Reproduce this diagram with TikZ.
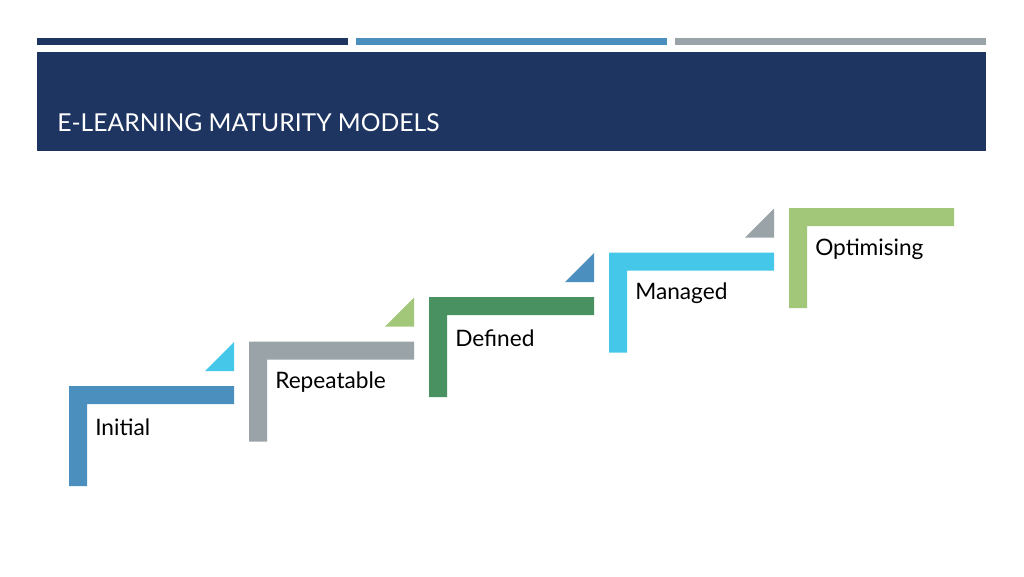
\documentclass[tikz,border=0pt]{standalone}
\usepackage{fontspec}
\setmainfont{Lato}
\usetikzlibrary{positioning}
\definecolor{navy}{HTML}{1F3561}
\definecolor{stepblue}{HTML}{4A8FBD}
\definecolor{stepcyan}{HTML}{45C7E9}
\definecolor{stepgray}{HTML}{9AA3A8}
\definecolor{stepgreen}{HTML}{4A9162}
\definecolor{steplime}{HTML}{A2C778}
\begin{document}
\begin{tikzpicture}[x=0.75pt,y=-0.75pt,
            bar/.style = {fill=#1},
            steplabel/.style = {anchor=west,inner sep=0pt,font=\fontsize{17}{20}\selectfont}]
            \useasboundingbox (0,0) rectangle (1024,576);
            % top stripes and header
            \fill[navy] (37,38) rectangle (348,45);
            \fill[stepblue] (356,38) rectangle (667,45);
            \fill[stepgray] (675,38) rectangle (986,45);
            \fill[navy] (37,52) rectangle (986,151);
            \node[anchor=west,text=white,inner sep=0pt,font=\fontsize{18.5}{22}\selectfont] (title) at (57,123) {E-LEARNING MATURITY MODELS};
            % stairs
            \foreach \i/\c/\t/\lbl in {0/stepblue/stepcyan/Initial,1/stepgray/steplime/Repeatable,
                    2/stepgreen/stepblue/Defined,3/stepcyan/stepgray/Managed,4/steplime/none/Optimising}{
                \pgfmathsetmacro{\x}{69+180*\i}
                \pgfmathsetmacro{\y}{386-44.5*\i}
                \fill[\c] (\x,\y) -- ++(165,0) -- ++(0,18) -- ++(-147,0) -- ++(0,82) -- ++(-18,0) -- cycle;
                \ifnum\i<4
                    \fill[\t] (\x+136,\y-15) -- ++(29,0) -- ++(0,-29) -- cycle;
                \fi
                \node[steplabel] (step\i) at (\x+26,\y+41) {\lbl};
            }
        \end{tikzpicture}
\end{document}
